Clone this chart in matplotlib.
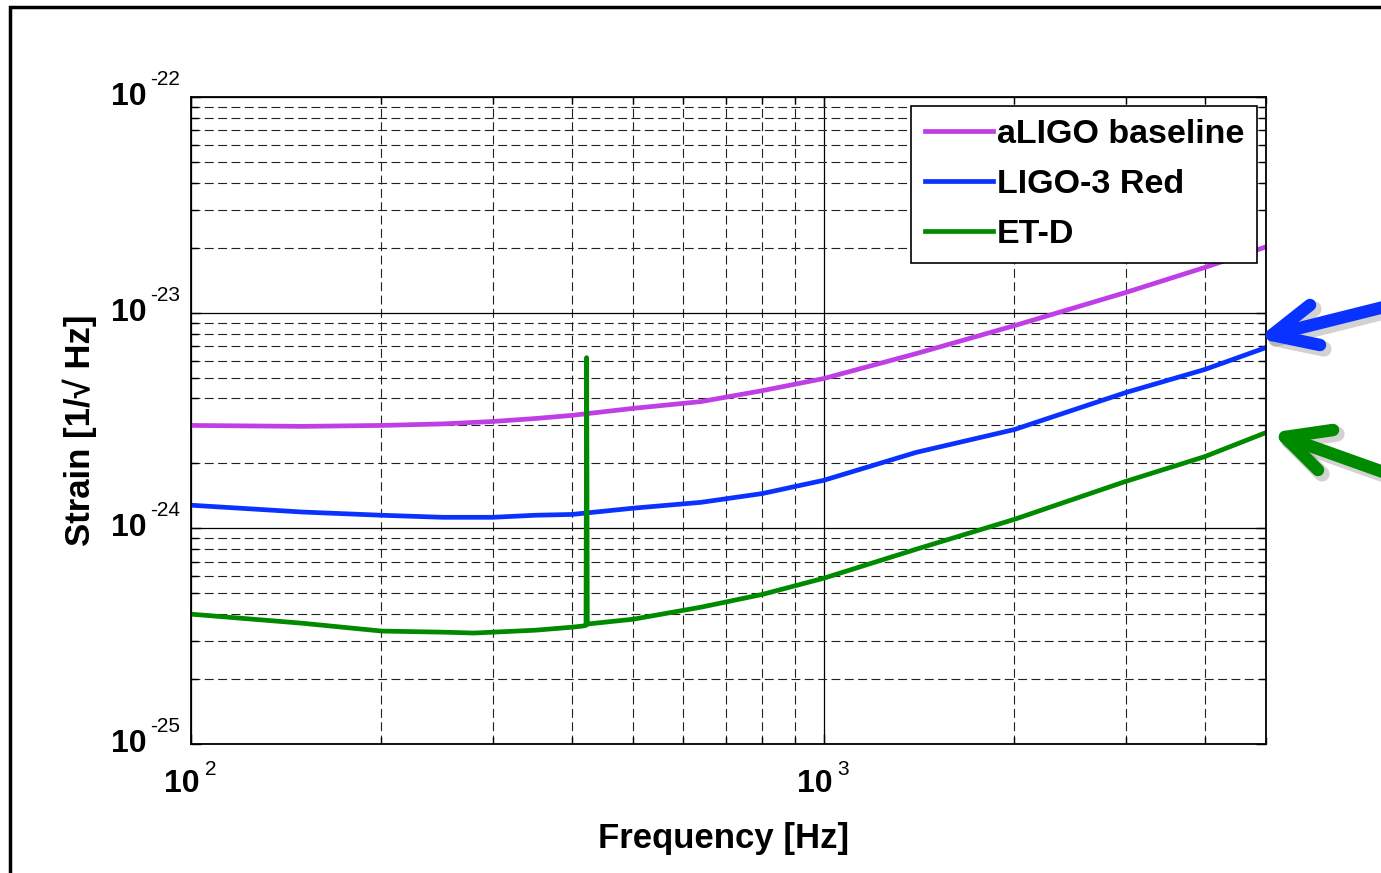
import numpy as np
import matplotlib
matplotlib.use('Agg')
import matplotlib.pyplot as plt
import matplotlib.transforms as mtrans
from matplotlib.lines import Line2D
from matplotlib.patches import Rectangle

### DATA ###
freq_aligo = [100, 150, 200, 250, 300, 350, 400, 500, 640, 800, 1000, 1400, 2000, 3000, 4000, 5000]
strain_aligo = [3.0e-24, 2.97e-24, 3.0e-24, 3.05e-24, 3.13e-24, 3.23e-24, 3.34e-24, 3.6e-24, 3.87e-24,
                4.35e-24, 4.95e-24, 6.46e-24, 8.7e-24, 1.24e-23, 1.62e-23, 2.02e-23]

freq_ligo3 = [100, 150, 200, 250, 300, 350, 400, 500, 640, 800, 1000, 1400, 2000, 3000, 4000, 5000]
strain_ligo3 = [1.28e-24, 1.19e-24, 1.15e-24, 1.125e-24, 1.125e-24, 1.15e-24, 1.16e-24, 1.24e-24, 1.32e-24,
                1.45e-24, 1.67e-24, 2.25e-24, 2.87e-24, 4.26e-24, 5.45e-24, 6.89e-24]

freq_etd = [100, 150, 200, 250, 280, 300, 350, 400, 415, 421, 422, 423, 500, 640, 800, 1000,
            1400, 2000, 3000, 4000, 5000]
strain_etd = [4.0e-25, 3.63e-25, 3.34e-25, 3.3e-25, 3.27e-25, 3.3e-25, 3.37e-25, 3.48e-25, 3.52e-25,
              3.55e-25, 6.19e-24, 3.6e-25, 3.79e-25, 4.31e-25, 4.94e-25, 5.87e-25,
              8.0e-25, 1.1e-24, 1.65e-24, 2.15e-24, 2.78e-24]

labels = ['aLIGO baseline', 'LIGO-3 Red', 'ET-D']
colors = ['#C03EE6', '#0A32FF', '#008A00']

y_ticks = [1e-25, 1e-24, 1e-23, 1e-22]
y_exps = ['-25', '-24', '-23', '-22']
x_ticks = [100, 1000]
x_exps = ['2', '3']

### STYLE ###
plt.rcParams['font.family'] = ['Liberation Sans', 'DejaVu Sans']

W, H = 1381, 873
fig = plt.figure(figsize=(W / 100, H / 100), dpi=100)
ax = fig.add_axes([191 / W, 1 - 744 / H, (1266 - 191) / W, (744 - 97) / H])

ax.plot(freq_aligo, strain_aligo, color=colors[0], lw=3.4, label=labels[0])
ax.plot(freq_ligo3, strain_ligo3, color=colors[1], lw=3.4, label=labels[1])
ax.plot(freq_etd, strain_etd, color=colors[2], lw=3.4, label=labels[2])

ax.set_xscale('log')
ax.set_yscale('log')
ax.set_xlim(100, 5000)
ax.set_ylim(1e-25, 1e-22)

ax.set_xticks(x_ticks)
ax.set_yticks(y_ticks)
ax.yaxis.set_minor_locator(matplotlib.ticker.LogLocator(base=10, subs=np.arange(2, 10), numticks=20))
ax.tick_params(which='both', direction='in', top=True, right=True, width=1,
               labelleft=False, labelbottom=False)
ax.tick_params(which='major', length=7)
ax.tick_params(which='minor', length=5)

ax.grid(which='major', color='black', lw=0.9, ls='-')
ax.grid(which='minor', color='#222222', lw=0.8, ls=(0, (8, 4)))
ax.set_axisbelow(True)
for sp in ax.spines.values():
    sp.set_linewidth(1.3)

# MATLAB style tick labels: big bold "10" with small plain exponent
ytr = ax.get_yaxis_transform()
for v, e in zip(y_ticks, y_exps):
    ax.text(0, v, '10', fontsize=23, fontweight='bold', ha='right', va='center',
            transform=mtrans.offset_copy(ytr, fig, x=-44, y=0, units='dots'))
    ax.text(0, v, e, fontsize=15, ha='left', va='baseline',
            transform=mtrans.offset_copy(ytr, fig, x=-41, y=12, units='dots'))
xtr = ax.get_xaxis_transform()
for v, e in zip(x_ticks, x_exps):
    ax.text(v, 0, '10', fontsize=23, fontweight='bold', ha='right', va='top',
            transform=mtrans.offset_copy(xtr, fig, x=9, y=-25, units='dots'))
    ax.text(v, 0, e, fontsize=15, ha='left', va='baseline',
            transform=mtrans.offset_copy(xtr, fig, x=14, y=-31, units='dots'))

ax.set_xlabel('Frequency [Hz]', fontsize=25, fontweight='bold', va='top')
ax.set_ylabel('Strain [1/\u221a Hz]', fontsize=25, fontweight='bold')
ax.xaxis.set_label_coords((724 - 191) / 1075, -0.12)
ax.yaxis.set_label_coords((97 - 191) / 1075, 0.485)

leg = ax.legend(loc='upper right', prop={'weight': 'bold', 'size': 24.5},
                frameon=True, fancybox=False, framealpha=1, edgecolor='black',
                handlelength=2.0, handletextpad=0.1, labelspacing=0.55, borderaxespad=0.25,
                borderpad=0.4)
leg.get_frame().set_linewidth(1.2)

# outer frame of the screenshot
fig.add_artist(Rectangle((10 / W, -0.1), 1.2, (H - 7) / H + 0.1, transform=fig.transFigure,
                         fill=False, edgecolor='black', lw=2.5))

# hand-drawn arrows pointing to the curve ends (figure pixels)
def px_arrow(tip, tail, barb1, barb2, color):
    for dx, dy, c, a, w in [(4, -4, 'gray', 0.35, 11), (0, 0, color, 1, 9)]:
        for pts in [(tail, tip), (barb1, tip, barb2)]:
            xs = [(p[0] + dx) / W for p in pts]
            ys = [1 - (p[1] - dy) / H for p in pts]
            fig.add_artist(Line2D(xs, ys, transform=fig.transFigure, color=c, alpha=a, lw=w,
                                  solid_capstyle='round', solid_joinstyle='round'))

px_arrow((1272, 335), (1400, 303), (1310, 305), (1320, 345), colors[1])
px_arrow((1285, 437), (1400, 478), (1333, 430), (1318, 470), colors[2])

fig.savefig('out.png', dpi=100)
